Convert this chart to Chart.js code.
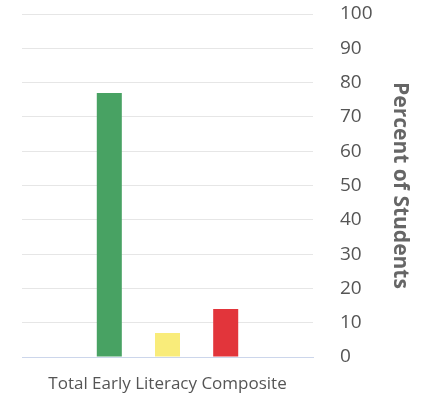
<!DOCTYPE html>
<html>
<head>
<meta charset="utf-8">
<script src="https://cdn.jsdelivr.net/npm/chart.js@4/dist/chart.umd.min.js"></script>
<style>
  html, body { margin: 0; padding: 0; background: #fff; }
  #wrap { width: 421px; height: 396px; }
</style>
</head>
<body>
<div id="wrap"><canvas id="chart" width="421" height="396"></canvas></div>
<script>
// Chart data
const categories = ['Total Early Literacy Composite'];
const seriesNames = ['At/Above Benchmark', 'Below Benchmark', 'Well Below Benchmark'];
const seriesValues = [[77], [7], [14]];
const seriesColors = ['#48a263', '#f9ec7a', '#e2353b'];
const yTicks = [0, 10, 20, 30, 40, 50, 60, 70, 80, 90, 100];
const yTitle = 'Percent of Students';

const datasets = seriesNames.map((name, i) => ({
    label: name,
    data: seriesValues[i],
    backgroundColor: seriesColors[i],
    borderWidth: 0,
    categoryPercentage: 0.6,
    barPercentage: 0.43
}));

const ctx = document.getElementById('chart').getContext('2d');
new Chart(ctx, {
    type: 'bar',
    data: { labels: categories, datasets: datasets },
    options: {
        responsive: false,
        animation: false,
        layout: { padding: { left: 22, top: 14, right: 2, bottom: 1.8 } },
        plugins: {
            legend: { display: false },
            tooltip: { enabled: false }
        },
        scales: {
            x: {
                // transparent tick marks give the gap under the axis line
                grid: { display: true, drawOnChartArea: false, drawTicks: true, tickLength: 16.8, tickColor: 'rgba(0,0,0,0)', color: 'rgba(0,0,0,0)' },
                border: { display: true, color: '#ccd6eb', width: 1 },
                ticks: {
                    padding: 0,
                    color: '#555',
                    font: { family: 'Open Sans', size: 17 }
                }
            },
            y: {
                position: 'right',
                min: 0,
                max: 100,
                afterBuildTicks: (axis) => { axis.ticks = yTicks.map(v => ({ value: v })); },
                // invisible tick marks make the gap between grid and labels
                grid: { color: '#e6e6e6', drawTicks: true, tickLength: 27, tickColor: 'rgba(0,0,0,0)' },
                border: { display: false },
                ticks: {
                    padding: 0,
                    color: '#555',
                    font: { family: 'Open Sans', size: 19 }
                },
                title: {
                    display: true,
                    text: yTitle,
                    color: '#666',
                    font: { family: 'Open Sans', size: 21, weight: 'bold' },
                    padding: { top: 6.4, bottom: 14.8 }
                }
            }
        }
    }
});
</script>
</body>
</html>
